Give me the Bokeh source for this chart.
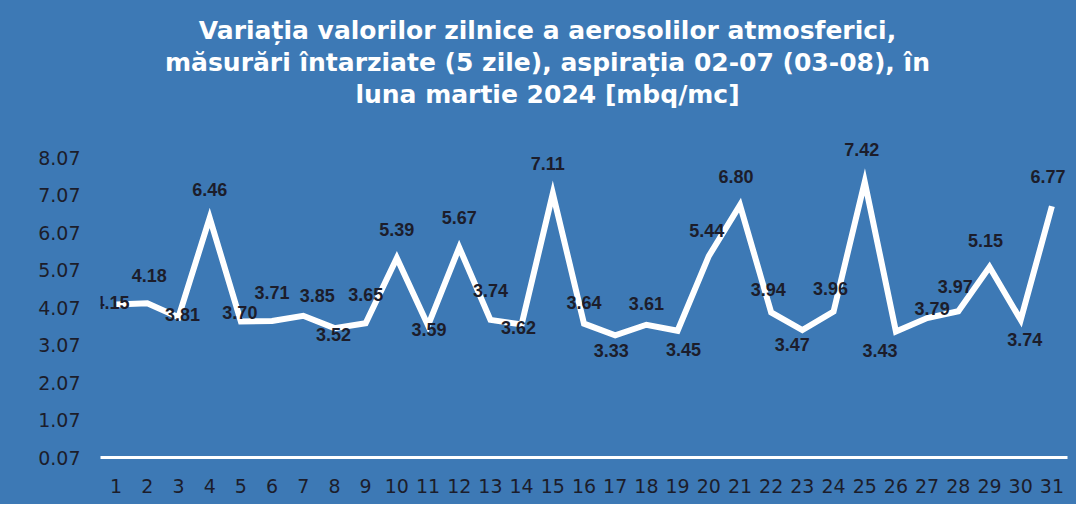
from bokeh.plotting import figure
from bokeh.models import Range1d, FixedTicker, PrintfTickFormatter, Label, ColumnDataSource
from bokeh.core.properties import value
from bokeh.embed import file_html
from bokeh.resources import INLINE

# ---- data ----
days = list(range(1, 32))
day_labels = [str(d) for d in days]
values = [4.15, 4.18, 3.81, 6.46, 3.70, 3.71, 3.85, 3.52, 3.65, 5.39,
          3.59, 5.67, 3.74, 3.62, 7.11, 3.64, 3.33, 3.61, 3.45, 5.44,
          6.80, 3.94, 3.47, 3.96, 7.42, 3.43, 3.79, 3.97, 5.15, 3.74, 6.77]
y_ticks = [0.07, 1.07, 2.07, 3.07, 4.07, 5.07, 6.07, 7.07, 8.07]
title_lines = [
    "Variația valorilor zilnice a aerosolilor atmosferici,",
    "măsurări întarziate (5 zile), aspirația 02-07 (03-08), în",
    "luna martie 2024 [mbq/mc]",
]

# ---- label placement (style: pixel offsets of each value label) ----
label_dx = [-4, 2, 4, 0, -1, 0, 14, -1, 0, 0, 1, 0, 0, -3, -5, 0, -4, 0, 6, -2,
            -4, -3, -10, -3, -3, -16, 5, -3, -4, 4, -4]
label_dy = [-2, -28, -3, -28, -9, -29, -20, 6, -29, -29, 4, -30, -29, 3, -30, -21, 15, -21, 19, -26,
            -29, -23, 14, -23, -32, 19, -10, -25, -27, 20, -30]

BG = "#3d79b5"
INK = "#1c1d2b"

# layout constants (pixels)
W, H = 1076, 504
LEFT, RIGHT, BOTTOM = 100, 9, 47
FRAME_W = W - LEFT - RIGHT
FRAME_H = H - BOTTOM
PX_PER_UNIT = 37.5
Y0 = y_ticks[0]
X0, X1 = days[0] - 0.5, days[-1] + 0.5
px_per_day = FRAME_W / (X1 - X0)

p = figure(width=W, height=H, output_backend="svg", toolbar_location=None,
           x_range=Range1d(X0, X1), y_range=Range1d(Y0, Y0 + FRAME_H / PX_PER_UNIT),
           min_border_left=LEFT, min_border_right=RIGHT, min_border_top=0,
           min_border_bottom=BOTTOM)
p.styles = {"background-color": BG}
p.background_fill_alpha = 0
p.border_fill_alpha = 0
p.outline_line_color = None
p.grid.visible = False

# x axis
xa = p.xaxis[0]
xa.ticker = FixedTicker(ticks=days)
xa.major_label_overrides = {d: l for d, l in zip(days, day_labels)}
xa.axis_line_color = "white"
xa.axis_line_width = 3
xa.major_tick_line_color = None
xa.minor_tick_line_color = None
xa.major_label_standoff = 15
xa.major_label_text_font = "DejaVu Sans"
xa.major_label_text_font_size = "19px"
xa.major_label_text_color = INK

# y axis
ya = p.yaxis[0]
ya.ticker = FixedTicker(ticks=y_ticks)
ya.formatter = PrintfTickFormatter(format="%.2f")
ya.axis_line_color = None
ya.major_tick_line_color = None
ya.minor_tick_line_color = None
ya.major_label_standoff = 14
ya.major_label_text_font = "DejaVu Sans"
ya.major_label_text_font_size = "19px"
ya.major_label_text_color = INK

src = ColumnDataSource(dict(x=days, y=values, t=["%.2f" % v for v in values],
                            dx=label_dx, dy=label_dy))
p.line("x", "y", source=src, line_color="white", line_width=6, line_join="miter")
p.text("x", "y", text="t", source=src, x_offset="dx", y_offset="dy",
       text_align="center", text_baseline="middle",
       text_font=value("Liberation Sans"), text_font_style="bold",
       text_font_size="18px", text_color=INK)

# title: centred at 447 px from frame left, baselines 30/62/94 px from top
for i, line in enumerate(title_lines):
    baseline_px_from_top = 30 + 32 * i
    p.add_layout(Label(x=X0 + 447 / px_per_day,
                       y=Y0 + (FRAME_H - baseline_px_from_top) / PX_PER_UNIT,
                       text=line, text_align="center", text_baseline="alphabetic",
                       text_font="DejaVu Sans", text_font_style="bold",
                       text_font_size="25px", text_color="white"))

open("out.html", "w").write(file_html(p, INLINE))
